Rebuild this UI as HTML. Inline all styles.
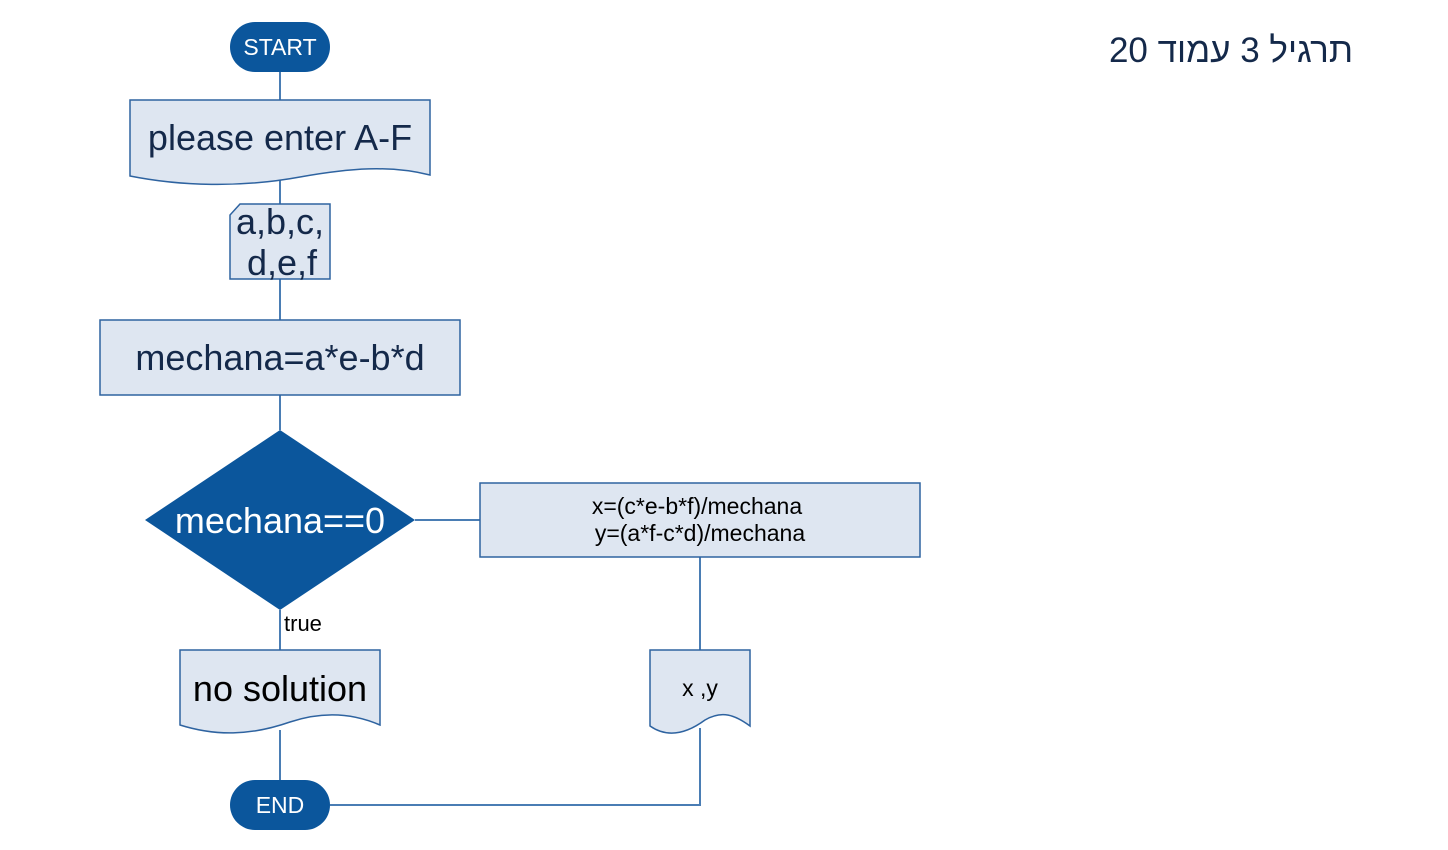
<!DOCTYPE html>
<html><head><meta charset="utf-8"><style>
html,body{margin:0;padding:0;background:#fff;width:1448px;height:850px;overflow:hidden}
svg{position:absolute;left:0;top:0}
.t{position:absolute;font-family:"Liberation Sans",sans-serif}
</style></head><body>
<svg width="1448" height="850" font-family="Liberation Sans, sans-serif">
<g stroke="#4a7db4" stroke-width="2" fill="none">
<line x1="280" y1="72" x2="280" y2="100"/>
<line x1="280" y1="175" x2="280" y2="204"/>
<line x1="280" y1="279" x2="280" y2="320"/>
<line x1="280" y1="395" x2="280" y2="430"/>
<line x1="280" y1="610" x2="280" y2="650"/>
<line x1="280" y1="730" x2="280" y2="780"/>
<line x1="415" y1="520" x2="480" y2="520"/>
<line x1="700" y1="557" x2="700" y2="650"/>
<polyline points="700,728 700,805 330,805"/>
</g>
<g stroke="#2e63a0" stroke-width="1.5" fill="#dee6f1">
<path d="M130,100 H430 V175 C390,165 350,168 300,177 C240,188 180,186 130,176 Z"/>
<path d="M240,204 H330 V279 H230 V215 Z"/>
<rect x="100" y="320" width="360" height="75"/>
<rect x="480" y="483" width="440" height="74"/>
<path d="M180,650 H380 V725 C350,712 320,712 290,722 C250,736 215,736 180,725 Z"/>
<path d="M650,650 H750 V726 C735,715 722,710 705,720 C690,731 670,740 650,726 Z"/>
</g>
<rect x="230" y="22" width="100" height="50" rx="25" fill="#0b569c"/>
<rect x="230" y="780" width="100" height="50" rx="25" fill="#0b569c"/>
<polygon points="280,430 415,520 280,610 145,520" fill="#0b569c"/>
<g text-anchor="middle">
<text x="280" y="55" font-size="23" fill="#fff">START</text>
<text x="280" y="813" font-size="23" fill="#fff">END</text>
<text x="280" y="150" font-size="36" fill="#14294a">please enter A-F</text>
<text x="280" y="234" font-size="36" fill="#14294a">a,b,c,</text>
<text x="282" y="275" font-size="36" fill="#14294a">d,e,f</text>
<text x="280" y="370" font-size="36" fill="#14294a">mechana=a*e-b*d</text>
<text x="280" y="533" font-size="36" fill="#fff">mechana==0</text>
<text x="697" y="514" font-size="23" fill="#000">x=(c*e-b*f)/mechana</text>
<text x="700" y="541" font-size="23" fill="#000">y=(a*f-c*d)/mechana</text>
<text x="280" y="701" font-size="36" fill="#000">no solution</text>
<text x="700" y="696" font-size="23" fill="#000">x ,y</text>
</g>
<text x="284" y="631" font-size="22" fill="#000">true</text>
</svg>
<div class="t" dir="rtl" style="right:95px;top:31px;font-size:35px;color:#14294a;font-family:'Liberation Sans','DejaVu Sans',sans-serif">תרגיל 3 עמוד 20</div>
</body></html>
